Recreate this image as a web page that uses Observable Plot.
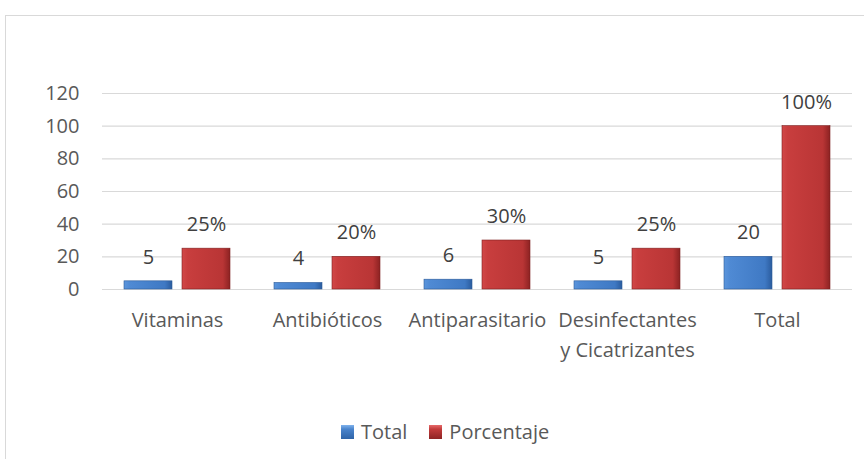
<!DOCTYPE html>
<html>
<head>
<meta charset="utf-8">
<script src="https://cdn.jsdelivr.net/npm/d3@7"></script>
<script src="https://cdn.jsdelivr.net/npm/@observablehq/plot@0.6"></script>
<style>
  html, body { margin: 0; padding: 0; background: #fff; }
  body { position: relative; width: 864px; height: 459px; overflow: hidden; font-family: "Open Sans", sans-serif; }
  #frame { position: absolute; left: 5px; top: 15px; width: 900px; height: 500px; border: 1px solid #d9d9d9; box-sizing: border-box; }
  #chart { position: absolute; left: 0; top: 0; }
  #legend { position: absolute; left: 341px; top: 418px; display: flex; align-items: center; font-size: 20px; color: #595959; white-space: nowrap; }
  .sw { width: 13px; height: 14px; margin-right: 7px; display: inline-block; }
  .item { display: flex; align-items: center; margin-right: 22px; }
</style>
</head>
<body>
<div id="frame"></div>
<div id="chart"></div>
<div id="legend"></div>
<script>
const categories = ["Vitaminas", "Antibióticos", "Antiparasitario", "Desinfectantes y Cicatrizantes", "Total"];
const tickLabels = ["Vitaminas", "Antibióticos", "Antiparasitario", "Desinfectantes\ny Cicatrizantes", "Total"];
const series = ["Total", "Porcentaje"];
const totals = [5, 4, 6, 5, 20];
const porcentajes = [25, 20, 30, 25, 100];
const yTicks = [0, 20, 40, 60, 80, 100, 120];
const seriesColors = ["url(#gBlue)", "url(#gRed)"];
const legendColors = ["linear-gradient(180deg,#7fb2ec 0%,#4a84cc 30%,#2f64a8 100%)", "linear-gradient(180deg,#e66a6a 0%,#c23b3b 30%,#8e2424 100%)"];

const data = [];
categories.forEach((c, i) => {
  data.push({category: c, series: "Total", value: totals[i], label: String(totals[i])});
  data.push({category: c, series: "Porcentaje", value: porcentajes[i], label: porcentajes[i] + "%"});
});
const labelMap = new Map(categories.map((c, i) => [c, tickLabels[i]]));

const chart = Plot.plot({
  width: 864,
  height: 400,
  marginLeft: 102,
  marginRight: 12,
  marginTop: 93,
  marginBottom: 111,
  style: { fontFamily: "Open Sans, sans-serif", fontSize: "20px", color: "#595959", background: "transparent" },
  fx: { domain: categories, padding: 0, label: null },
  x: { domain: series, paddingInner: 0.18, paddingOuter: 0.376, axis: null },
  y: { domain: [0, 120], ticks: yTicks, label: null },
  color: { domain: series, range: seriesColors },
  marks: [
    Plot.gridY(yTicks, { stroke: "#d9d9d9", strokeOpacity: 1, strokeWidth: 1.2 }),
    Plot.axisY(yTicks, { tickSize: 0, tickPadding: 23, label: null, fill: "#595959" }),
    Plot.axisFx({ anchor: "bottom", tickSize: 0, tickPadding: 16, lineHeight: 1.5, label: null, tickFormat: d => labelMap.get(d), fill: "#595959" }),
    Plot.barY(data, { fx: "category", x: "series", y: "value", fill: "series", stroke: d => d.series === "Total" ? "#2c5a98" : "#7e1e1e", strokeWidth: 0.6 }),
    Plot.text(data, { fx: "category", x: "series", y: "value", text: "label", dy: -24, fontSize: 20, fill: "#404040" })
  ]
});
document.getElementById("chart").appendChild(chart);

d3.select(chart).insert("defs", ":first-child").html(`
  <linearGradient id="gBlue" x1="0" y1="0" x2="1" y2="0">
    <stop offset="0" stop-color="#5b95dc"/>
    <stop offset="0.12" stop-color="#4f8ad4"/>
    <stop offset="0.85" stop-color="#3f79c4"/>
    <stop offset="1" stop-color="#2b5c9e"/>
  </linearGradient>
  <linearGradient id="gRed" x1="0" y1="0" x2="1" y2="0">
    <stop offset="0" stop-color="#d24848"/>
    <stop offset="0.12" stop-color="#c83e3e"/>
    <stop offset="0.85" stop-color="#b93535"/>
    <stop offset="1" stop-color="#8c2222"/>
  </linearGradient>`);

const legend = d3.select("#legend");
series.forEach((s, i) => {
  const item = legend.append("div").attr("class", "item");
  item.append("span").attr("class", "sw").style("background", legendColors[i]);
  item.append("span").text(s);
});
</script>
</body>
</html>
